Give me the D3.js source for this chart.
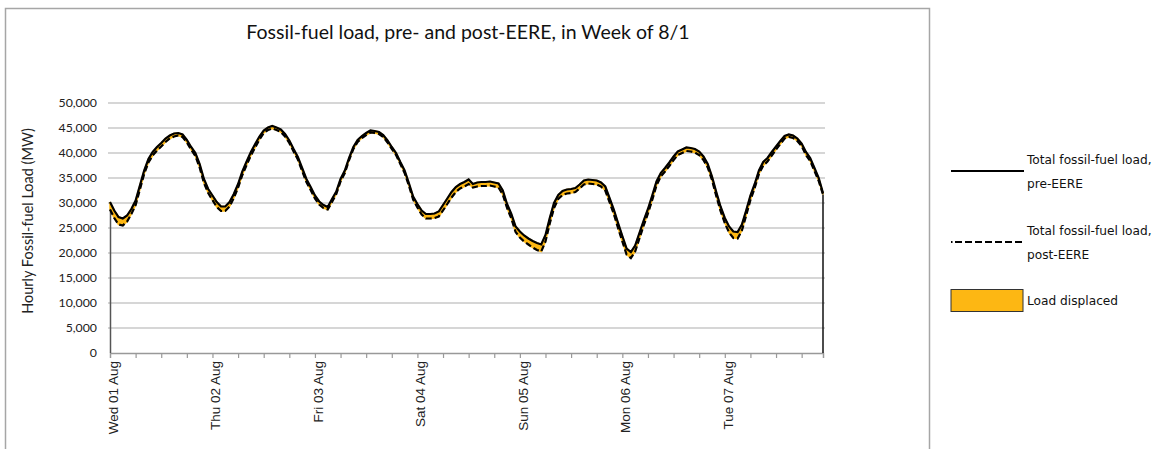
<!DOCTYPE html>
<html><head><meta charset="utf-8">
<script src="https://cdn.jsdelivr.net/npm/d3@7/dist/d3.min.js"></script>
<style>body{margin:0;background:#fff}svg{display:block}</style>
</head><body><svg id="c" width="1155" height="449"></svg>
<script>
const title = "Fossil-fuel load, pre- and post-EERE, in Week of 8/1";
const yTitle = "Hourly Fossil-fuel Load (MW)";
const dayLabels = ["Wed 01 Aug","Thu 02 Aug","Fri 03 Aug","Sat 04 Aug","Sun 05 Aug","Mon 06 Aug","Tue 07 Aug"];
const yTicks = [0,5000,10000,15000,20000,25000,30000,35000,40000,45000,50000];
const legendLabels = [["Total fossil-fuel load,","pre-EERE"],["Total fossil-fuel load,","post-EERE"],["Load displaced"]];
const preEERE = [
30200,28500,27200,26900,27500,28800,30500,33500,36500,38800,40200,41200,42000,42900,43500,43900,44000,43700,42600,41200,40000,37800,34800,32800,
31500,30200,29300,29300,30200,31800,33800,36300,38300,40200,41800,43300,44500,45100,45400,45100,44700,43800,42500,40800,39200,37000,34800,33200,
31500,30300,29600,29200,30800,32300,34800,36500,39000,41200,42600,43400,44000,44500,44400,44200,43600,42500,41200,40000,38200,36500,34000,31300,
29800,28500,27800,27800,27900,28300,29600,30900,32200,33200,33800,34200,34700,33800,34100,34200,34200,34300,34100,33900,32500,29800,27800,25300,
24300,23500,22900,22400,22000,21700,23600,27000,30000,31600,32400,32700,32800,33000,33700,34500,34700,34600,34500,34100,33300,31000,28700,26000,
23400,20900,20200,21500,24000,26500,28800,31500,34300,36000,37000,38100,39300,40300,40700,41100,41000,40800,40300,39300,37800,35300,32200,29300,
27000,25300,24300,24200,25700,28500,31500,33800,36500,38200,39000,40200,41300,42400,43400,43700,43500,42900,41900,40200,39000,37000,35000,32000];
const postEERE = [
28700,27000,25700,25500,26300,27800,29600,32700,35800,38100,39500,40500,41300,42200,42900,43300,43500,43200,42100,40700,39400,37100,34000,32000,
30600,29200,28400,28400,29300,31000,33100,35600,37600,39500,41100,42700,44000,44600,44900,44600,44200,43300,42000,40300,38700,36400,34200,32600,
30900,29700,29000,28700,30200,31800,34300,36000,38600,40800,42200,43000,43600,44100,44000,43800,43200,42100,40800,39600,37800,36000,33500,30700,
29100,27700,26900,26900,27000,27300,28500,29800,31100,32200,32900,33300,33800,33100,33300,33400,33400,33500,33300,33100,31700,29000,26900,24200,
23100,22300,21700,21100,20600,20300,22300,25900,29000,30800,31600,31900,32000,32200,32900,33700,33900,33800,33700,33300,32500,30200,27800,25000,
22300,19700,19000,20300,22900,25500,27900,30600,33500,35300,36300,37400,38600,39600,40000,40400,40300,40100,39600,38600,37100,34600,31400,28400,
26000,24100,23000,22900,24500,27500,30600,33000,35800,37500,38300,39500,40700,41800,42900,43200,43000,42400,41400,39600,38400,36400,34400,31700];

const svg = d3.select("#c");
const ORANGE = "#FDB713";
// frame
svg.append("rect").attr("x",5.5).attr("y",8.5).attr("width",924).attr("height",460)
  .attr("fill","#fff").attr("stroke","#a6a6a6").attr("stroke-width",1.5);

const x = d3.scaleLinear().domain([0, preEERE.length-1]).range([110, 823]);
const y = d3.scaleLinear().domain([0, 50000]).range([353, 103]);

// gridlines
svg.append("g").selectAll("line").data(yTicks.filter(d=>d>0)).join("line")
  .attr("x1",108).attr("x2",825).attr("y1",d=>y(d)).attr("y2",d=>y(d))
  .attr("stroke","#c8c8c8").attr("stroke-width",1.3);

// y labels
svg.append("g").selectAll("text").data(yTicks).join("text")
  .attr("x",97).attr("y",d=>y(d)).attr("dy","0.36em").attr("text-anchor","end")
  .attr("font-family","Lato, 'Open Sans', sans-serif").attr("font-size",12.3).attr("fill","#222")
  .text(d=>d3.format(",")(d));

// x axis
const xTickVals = d3.range(0, preEERE.length, 6).concat([preEERE.length-1]);
const xAxis = d3.axisBottom(x).tickValues(xTickVals).tickSize(5).tickFormat("");
const gx = svg.append("g").attr("transform",`translate(0,${y(0)})`).call(xAxis);
gx.select(".domain").attr("stroke","#999").attr("stroke-width",1.3);
gx.selectAll(".tick line").attr("stroke","#999").attr("stroke-width",1.2);

// day labels
svg.append("g").selectAll("text").data(dayLabels).join("text")
  .attr("transform",(d,i)=>`translate(${x(i*24)+8},361) rotate(-90)`)
  .attr("text-anchor","end")
  .attr("font-family","'Liberation Sans', Arial, sans-serif").attr("font-size",13.5).attr("fill","#222")
  .text(d=>d);

// area displaced
const idx = d3.range(preEERE.length);
svg.append("path").datum(idx)
  .attr("d", d3.area().x(i=>x(i)).y0(i=>y(postEERE[i])).y1(i=>y(preEERE[i])))
  .attr("fill",ORANGE).attr("stroke",ORANGE).attr("stroke-width",1.5);

// edge vertical lines
const n = preEERE.length-1;
svg.append("line").attr("x1",x(0)+0.5).attr("x2",x(0)+0.5).attr("y1",y(postEERE[0])).attr("y2",y(0))
  .attr("stroke","#555").attr("stroke-width",1.5);
svg.append("line").attr("x1",x(n)).attr("x2",x(n)).attr("y1",y(postEERE[n])).attr("y2",y(0))
  .attr("stroke","#111").attr("stroke-width",1.5);

// lines
const lineGen = arr => d3.line().x((d,i)=>x(i)).y(d=>y(d))(arr);
svg.append("path").attr("d",lineGen(preEERE)).attr("fill","none").attr("stroke","#000").attr("stroke-width",2.2);
svg.append("path").attr("d",lineGen(postEERE)).attr("fill","none").attr("stroke","#000").attr("stroke-width",2.2).attr("stroke-dasharray","6,3");

// title
svg.append("text").attr("x",468).attr("y",39).attr("text-anchor","middle")
  .attr("font-family","Lato, 'Open Sans', sans-serif").attr("font-size",19.5).attr("fill","#111").text(title);

// y title
svg.append("text").attr("transform","translate(33,221) rotate(-90)").attr("text-anchor","middle")
  .attr("font-family","Lato, 'Open Sans', sans-serif").attr("font-size",14.5).attr("fill","#222").text(yTitle);

// legend
const lg = svg.append("g");
const lf = "'DejaVu Sans', Verdana, sans-serif";
lg.append("line").attr("x1",951).attr("x2",1024).attr("y1",171).attr("y2",171).attr("stroke","#000").attr("stroke-width",2);
lg.append("line").attr("x1",951).attr("x2",952.5).attr("y1",242).attr("y2",242).attr("stroke","#000").attr("stroke-width",2);
lg.append("line").attr("x1",955).attr("x2",1024).attr("y1",242).attr("y2",242).attr("stroke","#000").attr("stroke-width",2).attr("stroke-dasharray","7,3");
lg.append("rect").attr("x",951).attr("y",289.5).attr("width",72).attr("height",22).attr("fill",ORANGE).attr("stroke","#333").attr("stroke-width",1);
const ly = [[164,188],[235,259],[305]];
legendLabels.forEach((lines,i)=>{
  lines.forEach((t,j)=>{
    lg.append("text").attr("x",1027).attr("y",ly[i][j]).attr("font-family",lf).attr("font-size",12.2).attr("fill","#111").text(t);
  });
});
</script></body></html>
